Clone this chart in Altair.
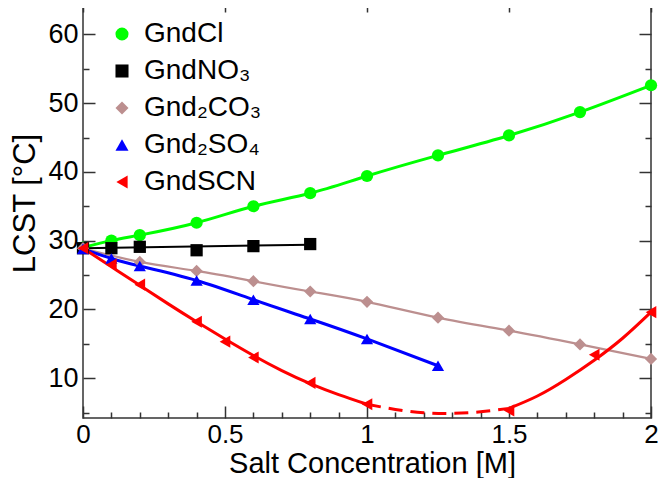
import altair as alt
import pandas as pd

FONT = "Liberation Sans"

series_names = ["GndCl", "GndNO₃", "Gnd₂CO₃", "Gnd₂SO₄", "GndSCN"]
series_colors = ["#00ff00", "#000000", "#bc8f8f", "#0000ff", "#ff0000"]
series_shapes = ["circle", "square", "diamond", "triangle-up", "triangle-left"]

# measured points
cl_x = [0, 0.1, 0.2, 0.4, 0.6, 0.8, 1.0, 1.25, 1.5, 1.75, 2.0]
cl_y = [29.0, 30.0, 30.8, 32.6, 35.0, 36.9, 39.4, 42.4, 45.3, 48.7, 52.6]
no3_x = [0, 0.1, 0.2, 0.4, 0.6, 0.8]
no3_y = [28.9, 28.9, 29.1, 28.6, 29.2, 29.5]
co3_x = [0, 0.2, 0.4, 0.6, 0.8, 1.0, 1.25, 1.5, 1.75, 2.0]
co3_y = [28.9, 26.9, 25.6, 24.1, 22.6, 21.1, 18.8, 16.9, 14.9, 12.8]
so4_x = [0, 0.1, 0.2, 0.4, 0.6, 0.8, 1.0, 1.25]
so4_y = [28.8, 27.4, 26.3, 24.2, 21.4, 18.6, 15.7, 11.8]
scn_x = [0, 0.1, 0.2, 0.4, 0.5, 0.6, 0.8, 1.0, 1.5, 1.8, 2.0]
scn_y = [28.9, 26.5, 23.6, 18.2, 15.3, 13.0, 9.3, 6.2, 5.3, 13.4, 19.6]

# fitted curves
no3_fit_x = [0, 0.8]
no3_fit_y = [28.9, 29.4]
scn_fit_a_x = [0, 0.1, 0.2, 0.3, 0.4, 0.5, 0.6, 0.7, 0.8, 0.9, 1.0]
scn_fit_a_y = [28.9, 26.2, 23.5, 20.8, 18.2, 15.7, 13.3, 11.1, 9.2, 7.6, 6.2]
scn_fit_dash_x = [1.0, 1.1, 1.2, 1.3, 1.4, 1.5]
scn_fit_dash_y = [6.2, 5.45, 4.96, 4.87, 5.1, 5.6]
scn_fit_b_x = [1.5, 1.6, 1.7, 1.8, 1.9, 2.0]
scn_fit_b_y = [5.6, 7.4, 9.8, 12.6, 15.8, 19.6]

x_major = [0, 0.5, 1, 1.5, 2]
x_minor = [0.1, 0.2, 0.3, 0.4, 0.6, 0.7, 0.8, 0.9, 1.1, 1.2, 1.3, 1.4, 1.6, 1.7, 1.8, 1.9]
y_major = [10, 20, 30, 40, 50, 60]
y_minor = [5, 15, 25, 35, 45, 55]


def frame(name, xs, ys, seg=None):
    return pd.DataFrame({"series": name, "seg": seg or name, "x": xs, "y": ys})


points = pd.concat([
    frame(series_names[0], cl_x, cl_y),
    frame(series_names[1], no3_x, no3_y),
    frame(series_names[2], co3_x, co3_y),
    frame(series_names[3], so4_x, so4_y),
    frame(series_names[4], scn_x, scn_y),
], ignore_index=True)

xscale = alt.Scale(domain=[0, 2], nice=False, zero=False)
yscale = alt.Scale(domain=[4.2, 65], nice=False, zero=False)
X = alt.X("x:Q", scale=xscale, axis=None)
Y = alt.Y("y:Q", scale=yscale, axis=None)

x_main = alt.X("x:Q", scale=xscale, axis=alt.Axis(
    orient="bottom", values=x_major, format="~g", title="Salt Concentration [M]",
    ticks=False, domain=False, grid=False, labelFlush=False,
    labelFont=FONT, labelFontSize=26, labelColor="black", labelPadding=3,
    titleFont=FONT, titleFontSize=29, titleFontWeight="normal", titleColor="black",
    titleBaseline="alphabetic", titleY=54, titleX=289))
y_main = alt.Y("y:Q", scale=yscale, axis=alt.Axis(
    orient="left", values=y_major, format="d", title="LCST [°C]",
    ticks=False, domain=False, grid=False, labelFlush=False,
    labelFont=FONT, labelFontSize=27, labelColor="black", labelPadding=5,
    titleFont=FONT, titleFontSize=31, titleFontWeight="normal", titleColor="black",
    titleBaseline="alphabetic", titleX=-49, titleY=203, titleAngle=270))


def line(df, col, w, first=False, dash=None):
    kw = dict(interpolate="natural", color=col, strokeWidth=w)
    if dash:
        kw["strokeDash"] = dash
    enc = dict(x=x_main if first else X, y=y_main if first else Y, detail="seg:N")
    return alt.Chart(df).mark_line(**kw).encode(**enc)


l_cl = line(frame(series_names[0], cl_x, cl_y), series_colors[0], 3, first=True)
l_no3 = line(frame(series_names[1], no3_fit_x, no3_fit_y), series_colors[1], 2)
l_co3 = line(frame(series_names[2], co3_x, co3_y), series_colors[2], 2.2)
l_so4 = line(frame(series_names[3], so4_x, so4_y), series_colors[3], 3)
l_scn = line(pd.concat([frame(series_names[4], scn_fit_a_x, scn_fit_a_y, "a"),
                        frame(series_names[4], scn_fit_b_x, scn_fit_b_y, "b")]),
             series_colors[4], 3)
l_scn_dash = line(frame(series_names[4], scn_fit_dash_x, scn_fit_dash_y), series_colors[4], 3,
                  dash=[14, 8])

legend = alt.Legend(title=None, orient="none", legendX=25, legendY=20, padding=0,
                    labelFont=FONT, labelFontSize=28, labelColor="black", labelOffset=8,
                    symbolSize=170, symbolStrokeWidth=0, rowPadding=9)
marks = alt.Chart(points).mark_point(filled=True, size=150, opacity=1).encode(
    x=X, y=Y,
    color=alt.Color("series:N", scale=alt.Scale(domain=series_names, range=series_colors),
                    legend=legend),
    shape=alt.Shape("series:N", scale=alt.Scale(domain=series_names, range=series_shapes),
                    legend=legend),
)


def tick_layer(xorient, yorient, xvals, yvals, size):
    common = dict(labels=False, domain=False, grid=False, title=None, tickSize=size,
                  offset=-size, tickColor="#333", tickWidth=1.5, ticks=True)
    return alt.Chart(points).mark_point(opacity=0).encode(
        x=alt.X("x:Q", scale=xscale, axis=alt.Axis(orient=xorient, values=xvals, **common)),
        y=alt.Y("y:Q", scale=yscale, axis=alt.Axis(orient=yorient, values=yvals, **common)),
    )


chart = alt.layer(
    l_cl, l_no3, l_co3, l_so4, l_scn, l_scn_dash, marks,
    tick_layer("bottom", "left", x_major, y_major, 12),
    tick_layer("bottom", "left", x_minor, y_minor, 6),
    tick_layer("top", "right", x_major, y_major, 12),
    tick_layer("top", "right", x_minor, y_minor, 6),
).resolve_axis(x="independent", y="independent").properties(
    width=568, height=418,
    autosize=alt.AutoSizeParams(type="none"),
    padding={"left": 75, "top": -8, "right": 7, "bottom": 60},
).configure_view(stroke="#333", strokeWidth=1.5)

chart.save("out.html", embed_options={"renderer": "svg", "actions": False})
